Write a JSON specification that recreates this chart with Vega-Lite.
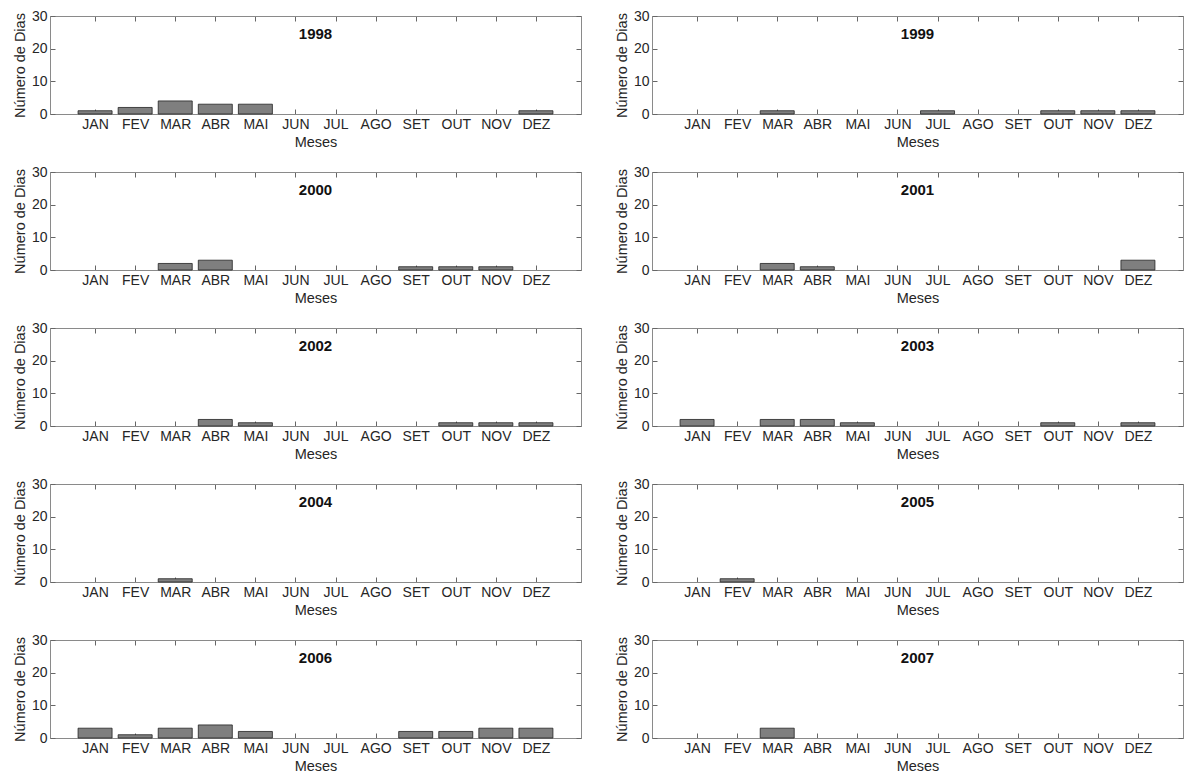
{
  "$schema": "https://vega.github.io/schema/vega-lite/v6.json",
  "padding": {"left": 11, "top": -2, "right": 0, "bottom": 0},
  "background": "white",
  "data": {"values": [
    {"year": "1998", "mes": 1, "dias": 1}, {"year": "1998", "mes": 2, "dias": 2}, {"year": "1998", "mes": 3, "dias": 4}, {"year": "1998", "mes": 4, "dias": 3}, {"year": "1998", "mes": 5, "dias": 3}, {"year": "1998", "mes": 12, "dias": 1},
    {"year": "1999", "mes": 3, "dias": 1}, {"year": "1999", "mes": 7, "dias": 1}, {"year": "1999", "mes": 10, "dias": 1}, {"year": "1999", "mes": 11, "dias": 1}, {"year": "1999", "mes": 12, "dias": 1},
    {"year": "2000", "mes": 3, "dias": 2}, {"year": "2000", "mes": 4, "dias": 3}, {"year": "2000", "mes": 9, "dias": 1}, {"year": "2000", "mes": 10, "dias": 1}, {"year": "2000", "mes": 11, "dias": 1},
    {"year": "2001", "mes": 3, "dias": 2}, {"year": "2001", "mes": 4, "dias": 1}, {"year": "2001", "mes": 12, "dias": 3},
    {"year": "2002", "mes": 4, "dias": 2}, {"year": "2002", "mes": 5, "dias": 1}, {"year": "2002", "mes": 10, "dias": 1}, {"year": "2002", "mes": 11, "dias": 1}, {"year": "2002", "mes": 12, "dias": 1},
    {"year": "2003", "mes": 1, "dias": 2}, {"year": "2003", "mes": 3, "dias": 2}, {"year": "2003", "mes": 4, "dias": 2}, {"year": "2003", "mes": 5, "dias": 1}, {"year": "2003", "mes": 10, "dias": 1}, {"year": "2003", "mes": 12, "dias": 1},
    {"year": "2004", "mes": 3, "dias": 1},
    {"year": "2005", "mes": 2, "dias": 1},
    {"year": "2006", "mes": 1, "dias": 3}, {"year": "2006", "mes": 2, "dias": 1}, {"year": "2006", "mes": 3, "dias": 3}, {"year": "2006", "mes": 4, "dias": 4}, {"year": "2006", "mes": 5, "dias": 2}, {"year": "2006", "mes": 9, "dias": 2}, {"year": "2006", "mes": 10, "dias": 2}, {"year": "2006", "mes": 11, "dias": 3}, {"year": "2006", "mes": 12, "dias": 3},
    {"year": "2007", "mes": 3, "dias": 3}
  ]},
  "facet": {"field": "year", "type": "nominal", "header": {"title": null, "labels": false, "labelExpr": "''", "labelFontSize": 0}},
  "columns": 2,
  "spacing": {"row": 58, "column": 71},
  "bounds": "flush",
  "resolve": {"axis": {"x": "independent", "y": "independent"}},
  "spec": {
    "width": 531,
    "height": 98,
    "layer": [
      {
        "mark": {"type": "bar", "width": 34, "fill": "#7f7f7f", "stroke": "#222222", "strokeWidth": 0.8},
        "encoding": {
          "x": {"field": "mes", "type": "quantitative",
                "scale": {"domain": [0, 13], "nice": false, "zero": false},
                "axis": {"orient": "bottom", "values": [1,2,3,4,5,6,7,8,9,10,11,12],
                         "labelExpr": "['JAN','FEV','MAR','ABR','MAI','JUN','JUL','AGO','SET','OUT','NOV','DEZ'][datum.value-1]",
                         "title": "Meses", "tickSize": -5, "labelPadding": 8, "titlePadding": 4, "grid": false}},
          "y": {"field": "dias", "type": "quantitative",
                "scale": {"domain": [0, 30], "nice": false},
                "axis": {"orient": "left", "values": [0, 10, 20, 30], "title": "Número de Dias",
                         "tickSize": -5, "labelPadding": 8, "titlePadding": 4, "grid": false}}
        }
      },
      {
        "transform": [{"aggregate": [{"op": "count", "as": "n"}], "groupby": ["year"]}],
        "mark": {"type": "text", "fontSize": 15, "fontWeight": "bold", "font": "Liberation Sans", "color": "#111111", "align": "center", "baseline": "middle"},
        "encoding": {
          "x": {"datum": 6.5, "type": "quantitative",
                "axis": {"orient": "top", "values": [1,2,3,4,5,6,7,8,9,10,11,12], "labels": false, "title": null, "tickSize": -5, "grid": false}},
          "y": {"datum": 24.5, "type": "quantitative",
                "axis": {"orient": "right", "values": [0, 10, 20, 30], "labels": false, "title": null, "tickSize": -5, "grid": false}},
          "text": {"field": "year", "type": "nominal"}
        }
      }
    ],
    "resolve": {"axis": {"x": "independent", "y": "independent"}}
  },
  "config": {
    "font": "Liberation Sans",
    "header": {"labels": false, "title": null},
    "view": {"stroke": "#8a8a8a", "strokeWidth": 1},
    "axis": {"domainColor": "#8a8a8a", "tickColor": "#666666", "tickWidth": 1, "labelColor": "#262626", "titleColor": "#262626",
             "labelFontSize": 14, "titleFontSize": 14.5, "titleFontWeight": "normal", "labelFont": "Liberation Sans", "titleFont": "Liberation Sans"}
  }
}
